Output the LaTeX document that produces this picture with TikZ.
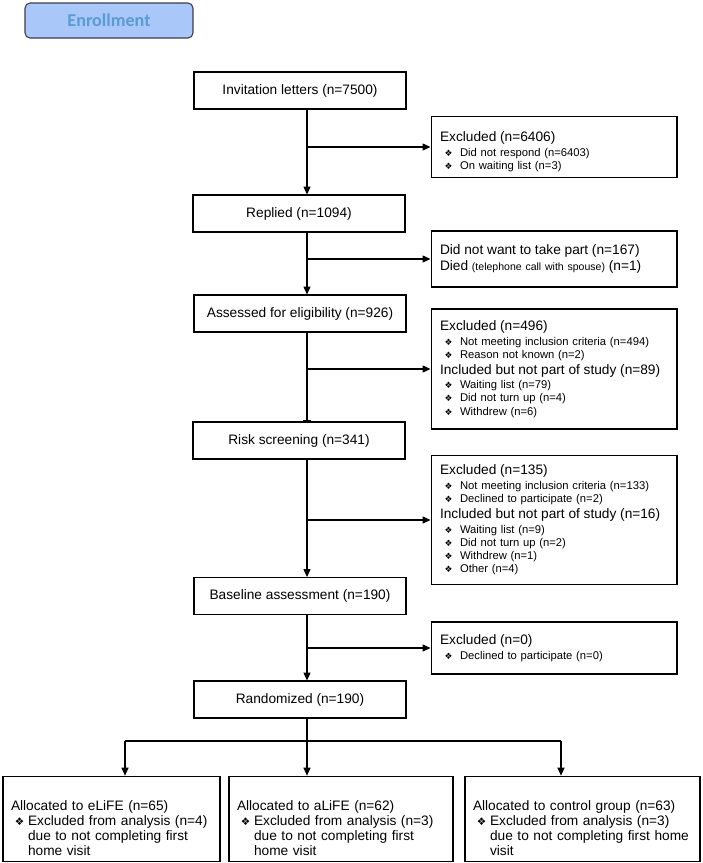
\documentclass[tikz,border=0pt]{standalone}
\usepackage{fontspec}
\setmainfont{Liberation Sans}
\newfontfamily\symfont{DejaVu Sans}
\newfontfamily\calfont{Carlito}
\usetikzlibrary{arrows.meta}
\definecolor{enrfill}{RGB}{170,199,250}
\definecolor{enrtext}{RGB}{91,155,213}
\definecolor{enrline}{RGB}{60,60,70}
\newcommand{\hd}{\fontsize{7.8}{8.7}\selectfont}
\newcommand{\sm}{\fontsize{6.4}{7.5}\selectfont}
\newcommand{\bul}{\makebox[0.4cm][l]{\hspace{0.09cm}{\symfont\fontsize{5}{6}\selectfont\char"2756}}}
\newcommand{\bbul}{\makebox[0.34cm][c]{{\symfont\fontsize{6}{7}\selectfont\char"2756}}}
\newcommand{\ind}{\hspace*{0.34cm}}
\tikzset{
  enrbox/.style={draw=enrline, fill=enrfill, rounded corners=0.1cm, line width=0.6pt,
    minimum width=3.36cm, minimum height=0.7cm, text=enrtext,
    font=\calfont\bfseries\fontsize{10.3}{12}\selectfont},
  mainbox/.style={draw, line width=0.6pt, minimum width=4.24cm, minimum height=0.74cm, font=\hd},
  sidebox/.style={draw, line width=0.6pt, minimum width=4.92cm, text width=4.56cm,
    inner xsep=0.18cm, align=left, font=\sm},
  allocbox/.style={draw, line width=0.6pt, minimum height=1.64cm, inner xsep=0.16cm,
    align=left, font=\hd},
  arr/.style={line width=0.6pt, -{Triangle[length=4.5pt,width=4pt]}},
  ln/.style={line width=0.6pt}
}
\begin{document}
\begin{tikzpicture}[x=0.02cm,y=-0.02cm]
\useasboundingbox (0,0) rectangle (703,863);
\node[enrbox] (enr) at (109,20.5) {Enrollment};
% main column
\node[mainbox] (inv) at (300,90.5) {Invitation letters (n=7500)};
\node[mainbox] (rep) at (299,213.5) {Replied (n=1094)};
\node[mainbox] (ass) at (300,313.5) {Assessed for eligibility (n=926)};
\node[mainbox] (risk) at (299,440.5) {Risk screening (n=341)};
\node[mainbox] (base) at (300,596) {Baseline assessment (n=190)};
\node[mainbox] (rand) at (300,699.5) {Randomized (n=190)};
\coordinate (sp) at (307,0);
% side boxes
\node[sidebox, minimum height=1.16cm] (ex1) at (554,147) {%
{\hd\rule{0pt}{0.4cm}Excluded (n=6406)}\\[0.8pt]
\bul Did not respond (n=6403)\\
\bul On waiting list (n=3)};
\node[sidebox, minimum height=1.12cm] (ex2) at (554,259) {%
{\hd Did not want to take part (n=167)}\\[1.5pt]
{\hd Died {\fontsize{6}{7}\selectfont (telephone call with spouse)} (n=1)}};
\node[sidebox, minimum height=2.4cm] (ex3) at (554,369) {%
{\hd Excluded (n=496)}\\[0.8pt]
\bul Not meeting inclusion criteria (n=494)\\
\bul Reason not known (n=2)\\[1.5pt]
{\hd Included but not part of study (n=89)}\\[0.8pt]
\bul Waiting list (n=79)\\
\bul Did not turn up (n=4)\\
\bul Withdrew (n=6)};
\node[sidebox, minimum height=2.58cm] (ex4) at (554,520) {%
{\hd Excluded (n=135)}\\[0.8pt]
\bul Not meeting inclusion criteria (n=133)\\
\bul Declined to participate (n=2)\\[1.5pt]
{\hd Included but not part of study (n=16)}\\[0.8pt]
\bul Waiting list (n=9)\\
\bul Did not turn up (n=2)\\
\bul Withdrew (n=1)\\
\bul Other (n=4)};
\node[sidebox, minimum height=1.04cm] (ex5) at (554,648) {%
{\hd Excluded (n=0)}\\[0.8pt]
\bul Declined to participate (n=0)};
% allocation
\node[allocbox, text width=4.02cm] (al1) at (111.5,819) {\rule{0pt}{0.56cm}Allocated to eLiFE (n=65)\\
\bbul Excluded from analysis (n=4)\\ \ind due to not completing first\\ \ind home visit};
\node[allocbox, text width=4.16cm] (al2) at (341,819) {\rule{0pt}{0.56cm}Allocated to aLiFE (n=62)\\
\bbul Excluded from analysis (n=3)\\ \ind due to not completing first\\ \ind home visit};
\node[allocbox, text width=4.38cm] (al3) at (582.5,819) {\rule{0pt}{0.56cm}Allocated to control group (n=63)\\
\bbul Excluded from analysis (n=3)\\ \ind due to not completing first home\\ \ind visit};
% connectors
\draw[arr] (inv.south -| sp) -- (rep.north -| sp);
\draw[arr] (rep.south -| sp) -- (ass.north -| sp);
\draw[ln, -{Bar[width=5pt]}] (ass.south -| sp) -- (risk.north -| sp);
\draw[arr] (risk.south -| sp) -- (base.north -| sp);
\draw[arr] (base.south -| sp) -- (rand.north -| sp);
\draw[arr] (sp |- ex1.west) -- (ex1.west);
\draw[arr] (sp |- ex2.west) -- (ex2.west);
\draw[arr] (sp |- ex3.west) -- (ex3.west);
\draw[arr] (sp |- ex4.west) -- (ex4.west);
\draw[arr] (sp |- ex5.west) -- (ex5.west);
\coordinate (bm) at (307,741);
\coordinate (bl) at (125,741);
\coordinate (br) at (561,741);
\draw[ln] (rand.south -| sp) -- (bm);
\draw[ln] (bl) -- (br);
\draw[arr] (bl) -- (al1.north -| bl);
\draw[arr] (bm) -- (al2.north -| bm);
\draw[arr] (br) -- (al3.north -| br);
\end{tikzpicture}
\end{document}
